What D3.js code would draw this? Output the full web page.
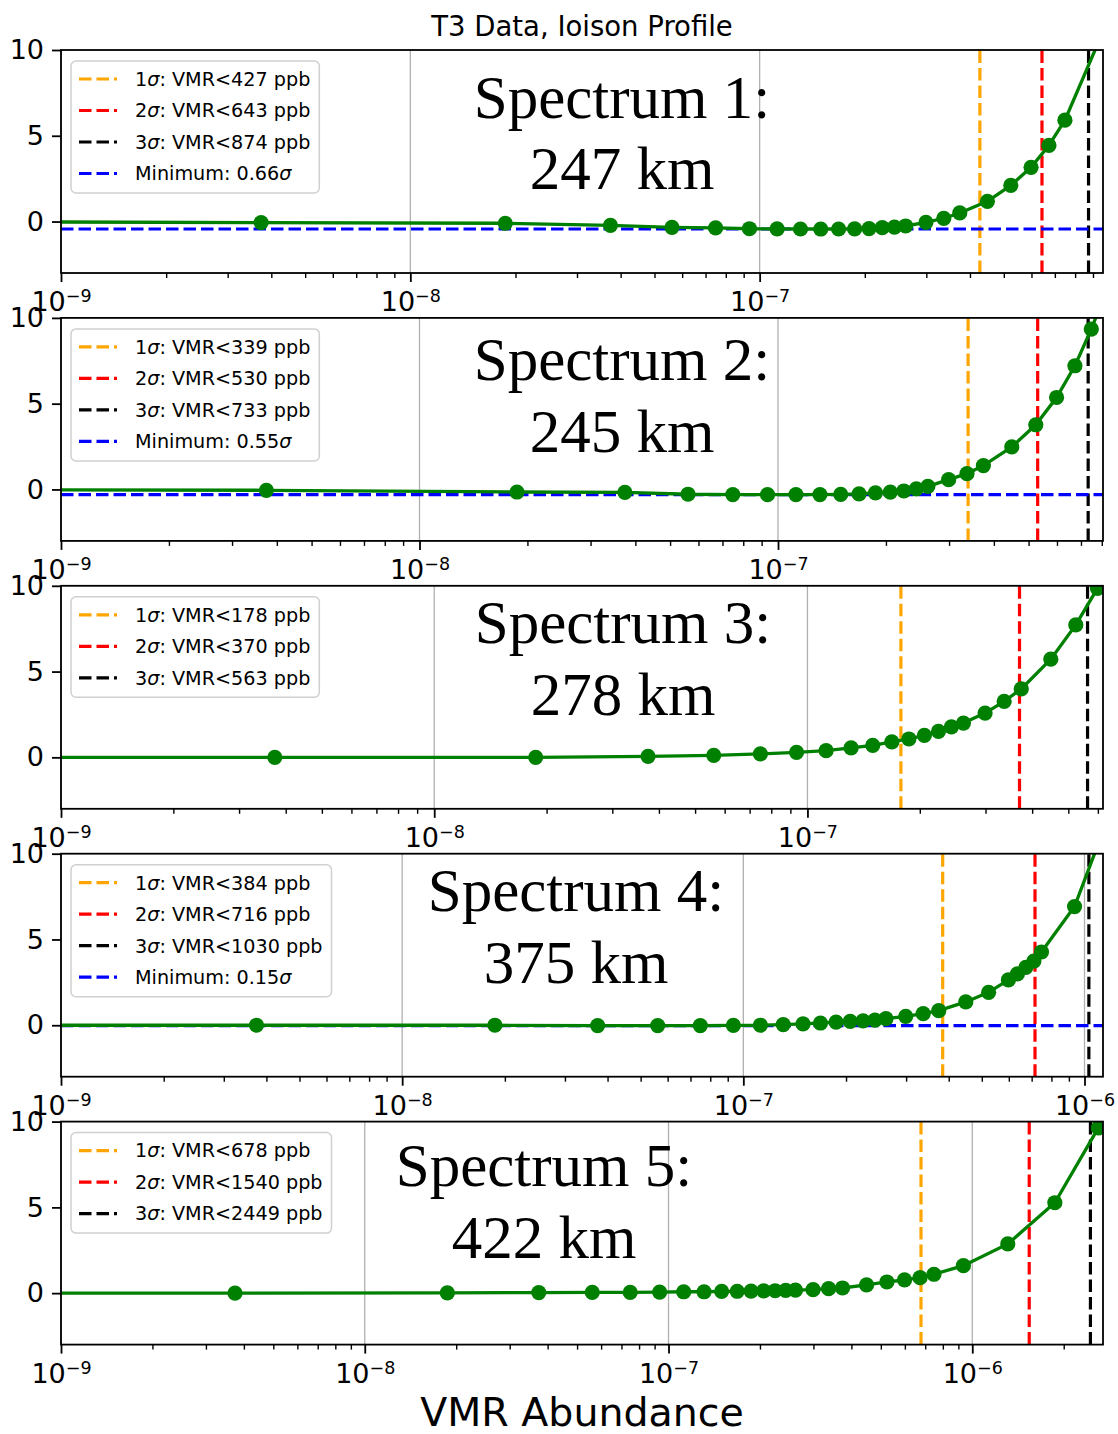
<!DOCTYPE html>
<html>
<head>
<meta charset="utf-8">
<script src="https://cdn.jsdelivr.net/npm/d3@7"></script>
<style>
  body { margin: 0; background: #fff; }
  svg { display: block; }
</style>
</head>
<body>
<svg id="chart" width="1118" height="1434"></svg>
<script>
// ---- data ----
const altitudes = [247, 245, 278, 375, 422]
const sigma1 = [427, 339, 178, 384, 678]      // ppb
const sigma2 = [643, 530, 370, 716, 1540]
const sigma3 = [874, 733, 563, 1030, 2449]
const minSigma = [0.66, 0.55, null, 0.15, null]

const vmr1 = [3.74e-10, 3.74e-9, 1.87e-8, 3.74e-8, 5.61e-8, 7.48e-8, 9.35e-8, 1.122e-7, 1.309e-7, 1.496e-7, 1.683e-7, 1.87e-7, 2.057e-7, 2.244e-7, 2.431e-7, 2.618e-7, 2.992e-7, 3.366e-7, 3.74e-7, 4.488e-7, 5.236e-7, 5.984e-7, 6.732e-7, 7.48e-7, 9.35e-7]
const dchi1 = [0, -0.06, -0.1, -0.22, -0.34, -0.37, -0.42, -0.43, -0.435, -0.4356, -0.435, -0.43, -0.41, -0.36, -0.32, -0.26, -0.05, 0.19, 0.5, 1.18, 2.11, 3.16, 4.44, 5.91, 10.5]

const vmr2 = vmr1.slice()
const dchi2 = [0, -0.05, -0.15, -0.17, -0.28, -0.3, -0.3025, -0.3, -0.3, -0.29, -0.26, -0.2, -0.16, -0.09, 0.03, 0.18, 0.57, 0.92, 1.39, 2.48, 3.77, 5.36, 7.21, 9.35, 14.5]

const vmr3 = [3.74e-10, 3.74e-9, 1.87e-8, 3.74e-8, 5.61e-8, 7.48e-8, 9.35e-8, 1.122e-7, 1.309e-7, 1.496e-7, 1.683e-7, 1.87e-7, 2.057e-7, 2.244e-7, 2.431e-7, 2.618e-7, 2.992e-7, 3.366e-7, 3.74e-7, 4.488e-7, 5.236e-7, 5.984e-7, 6.732e-7]
const dchi3 = [0, 0, 0, 0.06, 0.12, 0.2, 0.29, 0.39, 0.55, 0.7, 0.9, 1.07, 1.28, 1.51, 1.78, 2.0, 2.58, 3.26, 3.99, 5.72, 7.72, 9.85, 12.3]

const vmr4 = [3.74e-10, 3.74e-9, 1.87e-8, 3.74e-8, 5.61e-8, 7.48e-8, 9.35e-8, 1.122e-7, 1.309e-7, 1.496e-7, 1.683e-7, 1.87e-7, 2.057e-7, 2.244e-7, 2.431e-7, 2.618e-7, 2.992e-7, 3.366e-7, 3.74e-7, 4.488e-7, 5.236e-7, 5.984e-7, 6.358e-7, 6.732e-7, 7.106e-7, 7.48e-7, 9.35e-7, 1.309e-6]
const dchi4 = [0, 0, 0, -0.02, -0.0225, -0.02, -0.01, 0, 0.04, 0.08, 0.13, 0.18, 0.22, 0.26, 0.3, 0.38, 0.52, 0.68, 0.85, 1.36, 1.92, 2.64, 2.99, 3.37, 3.74, 4.27, 6.92, 14.6]

const vmr5 = [3.74e-10, 3.74e-9, 1.87e-8, 3.74e-8, 5.61e-8, 7.48e-8, 9.35e-8, 1.122e-7, 1.309e-7, 1.496e-7, 1.683e-7, 1.87e-7, 2.057e-7, 2.244e-7, 2.431e-7, 2.618e-7, 2.992e-7, 3.366e-7, 3.74e-7, 4.488e-7, 5.236e-7, 5.984e-7, 6.732e-7, 7.48e-7, 9.35e-7, 1.309e-6, 1.87e-6, 2.6e-6]
const dchi5 = [0, 0, 0.02, 0.03, 0.04, 0.04, 0.06, 0.08, 0.08, 0.1, 0.11, 0.12, 0.13, 0.14, 0.16, 0.17, 0.2, 0.26, 0.3, 0.48, 0.65, 0.77, 0.9, 1.1, 1.6, 2.87, 5.27, 9.63]

const vmrs = [vmr1, vmr2, vmr3, vmr4, vmr5]
const dchis = [dchi1, dchi2, dchi3, dchi4, dchi5]
const yTicks = [0, 5, 10]

// ---- layout ----
const left = 61, right = 1103, panelH = 223
const tops = [50, 317.9, 585.8, 853.7, 1121.6]
const annX = [622, 622, 623, 576, 544]
const annBase = [[68.3, 139.3], [62.1, 133.8], [56.9, 129.2], [57, 129.6], [64.4, 136.7]]
const sans = "'DejaVu Sans', sans-serif"
const dash = "12.5,5"
const lw = 3.2

const svg = d3.select('#chart')

svg.append('text')
    .attr('x', (left + right) / 2).attr('y', 36)
    .attr('text-anchor', 'middle')
    .style('font-family', sans).style('font-size', '27.5px')
    .text('T3 Data, Ioison Profile')

svg.append('text')
    .attr('x', (left + right) / 2).attr('y', 1426)
    .attr('text-anchor', 'middle')
    .style('font-family', sans).style('font-size', '39.5px')
    .text('VMR Abundance')

function supLabel(sel, exp) {
    sel.text(null)
    sel.append('tspan').text('10')
    sel.append('tspan').attr('dy', -9).style('font-size', '17.5px').text('\u2212' + exp)
}

tops.forEach((top, i) => {
    const bottom = top + panelH
    const xMax = 1.1 * sigma3[i] * 1e-9
    const x = d3.scaleLog().domain([1e-9, xMax]).range([left, right])
    const y = d3.scaleLinear().domain([-3, 10]).range([bottom, top])
    const g = svg.append('g')

    const clipId = 'clip' + i
    svg.append('clipPath').attr('id', clipId)
        .append('rect').attr('x', left).attr('y', top).attr('width', right - left).attr('height', panelH)

    // decades and minor ticks inside the domain
    let majors = [], minors = []
    for (let e = -9; e <= -5; e++) {
        const v = Math.pow(10, e)
        if (v <= xMax * 1.0001) majors.push(v)
        for (let k = 2; k < 10; k++) if (k * v <= xMax) minors.push(k * v)
    }

    // grid
    g.append('g').selectAll('line').data(majors).enter().append('line')
        .attr('x1', d => x(d)).attr('x2', d => x(d))
        .attr('y1', top).attr('y2', bottom)
        .attr('stroke', '#b0b0b0').attr('stroke-width', 1.3)

    const plot = g.append('g').attr('clip-path', `url(#${clipId})`)

    // sigma limits
    const limits = [
        { v: sigma1[i], color: '#ffa500', n: '1' },
        { v: sigma2[i], color: '#ff0000', n: '2' },
        { v: sigma3[i], color: '#000000', n: '3' }
    ]
    limits.forEach(l => {
        plot.append('line')
            .attr('x1', x(l.v * 1e-9)).attr('x2', x(l.v * 1e-9))
            .attr('y1', bottom).attr('y2', top)
            .attr('stroke', l.color).attr('stroke-width', lw)
            .attr('stroke-dasharray', dash)
    })
    if (minSigma[i] !== null) {
        const m = -minSigma[i] * minSigma[i]
        plot.append('line')
            .attr('x1', left).attr('x2', right)
            .attr('y1', y(m)).attr('y2', y(m))
            .attr('stroke', '#0000ff').attr('stroke-width', lw)
            .attr('stroke-dasharray', dash)
    }

    // chi-square curve
    const pts = vmrs[i].map((v, j) => [v, dchis[i][j]])
    const line = d3.line().x(d => x(d[0])).y(d => y(d[1]))
    plot.append('path').datum(pts)
        .attr('d', line)
        .attr('fill', 'none').attr('stroke', '#008000').attr('stroke-width', 3.3)
    plot.selectAll('circle').data(pts.filter(d => d[0] >= 1e-9)).enter().append('circle')
        .attr('cx', d => x(d[0])).attr('cy', d => y(d[1])).attr('r', 7.6)
        .attr('fill', '#008000')

    // frame
    g.append('rect')
        .attr('x', left).attr('y', top).attr('width', right - left).attr('height', panelH)
        .attr('fill', 'none').attr('stroke', '#000').attr('stroke-width', 1.8)

    // axes
    const xAxis = g.append('g').attr('transform', `translate(0,${bottom})`)
        .call(d3.axisBottom(x).tickValues(majors).tickSize(9).tickSizeOuter(0))
    xAxis.select('.domain').remove()
    xAxis.selectAll('line').attr('stroke-width', 1.8)
    xAxis.selectAll('text')
        .attr('y', 38).attr('dy', 0)
        .style('font-family', sans).style('font-size', '27px').attr('fill', '#000')
        .each(function (d) { supLabel(d3.select(this), Math.round(-Math.log10(d))) })

    const xMinor = g.append('g').attr('transform', `translate(0,${bottom})`)
        .call(d3.axisBottom(x).tickValues(minors).tickSize(5).tickSizeOuter(0).tickFormat(''))
    xMinor.select('.domain').remove()
    xMinor.selectAll('line').attr('stroke-width', 1.4)

    const yAxis = g.append('g').attr('transform', `translate(${left},0)`)
        .call(d3.axisLeft(y).tickValues(yTicks).tickSize(9).tickPadding(8).tickSizeOuter(0))
    yAxis.select('.domain').remove()
    yAxis.selectAll('line').attr('stroke-width', 1.8)
    yAxis.selectAll('text')
        .style('font-family', sans).style('font-size', '27px').attr('fill', '#000')

    // legend
    const entries = limits.map(l => ({ color: l.color, n: l.n, rest: `: VMR<${l.v} ppb` }))
    if (minSigma[i] !== null) entries.push({ color: '#0000ff', n: 'Minimum: ' + minSigma[i].toFixed(2), rest: '' })
    const leg = g.append('g')
    const box = leg.append('rect')
        .attr('x', 71).attr('y', top + 11)
        .attr('height', 29 - 11 + (entries.length - 1) * 31.5 + 19.5)
        .attr('rx', 5).attr('ry', 5)
        .attr('fill', '#fff').attr('fill-opacity', 0.8)
        .attr('stroke', '#d0d0d0').attr('stroke-width', 1.5)
    let maxW = 0
    entries.forEach((e, k) => {
        const cy = top + 29 + k * 31.5
        leg.append('line')
            .attr('x1', 79).attr('x2', 117).attr('y1', cy).attr('y2', cy)
            .attr('stroke', e.color).attr('stroke-width', lw).attr('stroke-dasharray', dash)
        const t = leg.append('text')
            .attr('x', 135).attr('y', cy + 6.8)
            .style('font-family', sans).style('font-size', '19.2px')
        t.append('tspan').text(e.n)
        t.append('tspan').style('font-style', 'italic').text('\u03c3')
        if (e.rest) t.append('tspan').text(e.rest)
        maxW = Math.max(maxW, t.node().getComputedTextLength())
    })
    box.attr('width', 135 + maxW + 9 - 71)

    // annotation
    const ann = [`Spectrum ${i + 1}:`, `${altitudes[i]} km`]
    ann.forEach((s, k) => {
        g.append('text')
            .attr('x', annX[i]).attr('y', top + annBase[i][k])
            .attr('text-anchor', 'middle')
            .style('font-family', "'Liberation Serif', 'Times New Roman', serif")
            .style('font-size', '61px')
            .text(s)
    })
})
</script>
</body>
</html>
